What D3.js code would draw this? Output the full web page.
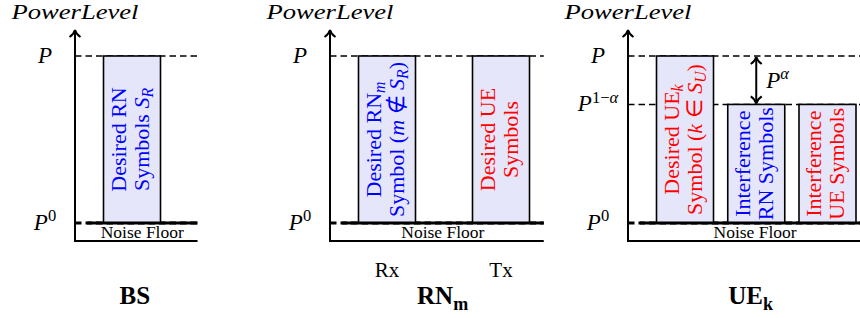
<!DOCTYPE html>
<html>
<head>
<meta charset="utf-8">
<script src="https://cdn.jsdelivr.net/npm/d3@7"></script>
<style>
  body { margin: 0; background: #fff; }
  text { font-family: "Liberation Serif", "Times New Roman", serif; }
</style>
</head>
<body>
<svg id="chart"></svg>
<script>
var width = 860,
    height = 318;

// Power levels (P0 = noise floor, P = full power)
var levelNames = ['P0', 'P1a', 'P'];
var levelValues = [0, 0.71, 1];
var levelLabels = [
    [['P', 'i'], ['0', 'p']],
    [['P', 'i'], ['1\u2212', 'p'], ['\u03b1', 'ip']],
    [['P', 'i']]
];

// Panels
var panelNames = ['BS', 'RN', 'UE'];
var panelTitles = [
    [['BS', 'B']],
    [['RN', 'B'], ['m', 'Bb']],
    [['UE', 'B'], ['k', 'Bb']]
];
var panelLevels = [['P0', 'P'], ['P0', 'P'], ['P0', 'P1a', 'P']];
var panelEnd = [4.3, 7.5, 8.5];       // in bar units
var panelTitleAt = [2.1, 3.95, 4.3];

// Bars
var barPanel = [0, 1, 1, 2, 2, 2];
var barStart = [1, 1, 5, 1, 3.5, 6];
var barTop = ['P', 'P', 'P', 'P', 'P1a', 'P1a'];
var barColor = ['#0000ff', '#0000ff', '#ff0000', '#ff0000', '#0000ff', '#ff0000'];
var barLine1 = [
    [['Desired RN']],
    [['Desired RN'], ['m', 'ib']],
    [['Desired UE']],
    [['Desired UE'], ['k', 'ib']],
    [['Interference']],
    [['Interference']]
];
var barLine2 = [
    [['Symbols '], ['S', 'i'], ['R', 'ib']],
    [['Symbol ('], ['m', 'i'], [' \u2209 '], ['S', 'i'], ['R', 'ib'], [')']],
    [['Symbols']],
    [['Symbol ('], ['k', 'i'], [' \u2208 '], ['S', 'i'], ['U', 'ib'], [')']],
    [['RN Symbols']],
    [['UE Symbols']]
];
var barBelow = ['', 'Rx', 'Tx', '', '', ''];

// Gap between P^(1-a) and P, shown in the UE panel
var gapPanel = 2, gapAt = 4.5, gapFrom = 'P', gapTo = 'P1a';
var gapLabel = [['P', 'i'], ['\u03b1', 'ip']];

// Layout
var axisX = [75, 330, 628],
    unit = 28.5,
    floorStart = 0.42,
    floorDepth = 18,
    axisTop = 30;

var y = d3.scaleLinear().domain([0, 1]).range([223, 56]);
function level(name) { return levelValues[levelNames.indexOf(name)]; }

var svg = d3.select('#chart')
    .attr('width', width)
    .attr('height', height);

// Write text made of segments: i = italic, b = subscript, p = superscript, B = bold
function rich(sel, segs, size) {
    var cur = 0;
    segs.forEach(function (s) {
        var st = s[1] || '';
        var shift = st.indexOf('b') >= 0 ? 0.22 : (st.indexOf('p') >= 0 ? -0.38 : 0);
        var small = shift !== 0;
        var t = sel.append('tspan').text(s[0])
            .attr('dy', (shift - cur) * size)
            .style('font-size', (small ? size * 0.72 : size) + 'px');
        if (st.indexOf('i') >= 0) t.style('font-style', 'italic');
        if (st.indexOf('B') >= 0) t.style('font-weight', 'bold');
        cur = shift;
    });
    return sel;
}

function arrowHead(g, x0, y0, dir) {
    // open chevron pointing up (dir = -1) or down (dir = 1)
    g.append('path')
        .attr('d', 'M' + (x0 - 5.5) + ',' + (y0 - dir * 7) + ' Q' + (x0 - 1) + ',' + (y0 - dir * 4) + ' ' + x0 + ',' + y0 +
                   ' Q' + (x0 + 1) + ',' + (y0 - dir * 4) + ' ' + (x0 + 5.5) + ',' + (y0 - dir * 7))
        .attr('fill', 'none')
        .attr('stroke', '#000')
        .attr('stroke-width', 2);
}

panelNames.forEach(function (name, p) {
    var x = d3.scaleLinear().domain([0, 1]).range([axisX[p], axisX[p] + unit]);
    var g = svg.append('g').attr('class', 'panel-' + name);
    var yFloor = y(0) + floorDepth;

    // Dashed level lines
    panelLevels[p].forEach(function (l) {
        g.append('line')
            .attr('x1', x(0)).attr('x2', x(panelEnd[p]))
            .attr('y1', y(level(l))).attr('y2', y(level(l)))
            .attr('stroke', '#000')
            .attr('stroke-width', l === 'P0' ? 3 : 1.4)
            .attr('stroke-dasharray', '6.5,4');
    });

    // Bars
    var idx = d3.range(barPanel.length).filter(function (i) { return barPanel[i] === p; });
    g.selectAll('rect.bar')
        .data(idx)
        .enter().append('rect')
        .attr('class', 'bar')
        .attr('x', function (i) { return x(barStart[i]); })
        .attr('width', function (i) { return x(barStart[i] + 2) - x(barStart[i]); })
        .attr('y', function (i) { return y(level(barTop[i])); })
        .attr('height', function (i) { return y(0) - y(level(barTop[i])); })
        .attr('fill', '#e6e6fa')
        .attr('stroke', '#000')
        .attr('stroke-width', 1.6);

    // Bar text (rotated)
    idx.forEach(function (i) {
        var cx = x(barStart[i] + 1),
            cy = (y(level(barTop[i])) + y(0)) / 2;
        var tg = g.append('g').attr('transform', 'translate(' + cx + ',' + cy + ') rotate(-90)');
        rich(tg.append('text').attr('y', -6.5).attr('text-anchor', 'middle').attr('fill', barColor[i]), barLine1[i], 22);
        rich(tg.append('text').attr('y', 16.5).attr('text-anchor', 'middle').attr('fill', barColor[i]), barLine2[i], 22);
        if (barBelow[i]) {
            g.append('text')
                .attr('x', cx).attr('y', 277)
                .attr('text-anchor', 'middle')
                .style('font-size', '21px')
                .text(barBelow[i]);
        }
    });

    // Noise floor
    g.append('line')
        .attr('x1', x(floorStart)).attr('x2', x(panelEnd[p]))
        .attr('y1', y(0)).attr('y2', y(0))
        .attr('stroke', '#000').attr('stroke-width', 3.2);
    g.append('text')
        .attr('x', (x(floorStart) + x(panelEnd[p])) / 2)
        .attr('y', y(0) + 14.5)
        .attr('text-anchor', 'middle')
        .style('font-size', '17.5px')
        .text('Noise Floor');
    g.append('line')
        .attr('x1', x(0) - 1).attr('x2', x(panelEnd[p]))
        .attr('y1', yFloor).attr('y2', yFloor)
        .attr('stroke', '#000').attr('stroke-width', 2);

    // Vertical axis with arrow
    g.append('line')
        .attr('x1', x(0)).attr('x2', x(0))
        .attr('y1', yFloor + 1).attr('y2', axisTop + 1)
        .attr('stroke', '#000').attr('stroke-width', 2);
    arrowHead(g, x(0), axisTop, -1);

    g.append('text')
        .attr('x', x(0)).attr('y', 19)
        .attr('text-anchor', 'middle')
        .attr('textLength', 127)
        .attr('lengthAdjust', 'spacingAndGlyphs')
        .style('font-size', '22px')
        .style('font-style', 'italic')
        .text('PowerLevel');

    // Level labels
    panelLevels[p].forEach(function (l) {
        rich(g.append('text')
            .attr('x', x(0) - 30).attr('y', y(level(l)) + 7)
            .attr('text-anchor', 'middle'), levelLabels[levelNames.indexOf(l)], 23);
    });

    // Panel title
    rich(g.append('text')
        .attr('x', x(panelTitleAt[p])).attr('y', 304)
        .attr('text-anchor', 'middle'), panelTitles[p], 25);

    // P^alpha gap arrow
    if (p === gapPanel) {
        var y1 = y(level(gapFrom)), y2 = y(level(gapTo));
        g.append('line')
            .attr('x1', x(gapAt)).attr('x2', x(gapAt))
            .attr('y1', y1 + 1).attr('y2', y2 - 1)
            .attr('stroke', '#000').attr('stroke-width', 2);
        arrowHead(g, x(gapAt), y1 + 1, -1);
        arrowHead(g, x(gapAt), y2 - 1, 1);
        rich(g.append('text')
            .attr('x', x(gapAt) + 10).attr('y', (y1 + y2) / 2 + 8), gapLabel, 23);
    }
});
</script>
</body>
</html>
